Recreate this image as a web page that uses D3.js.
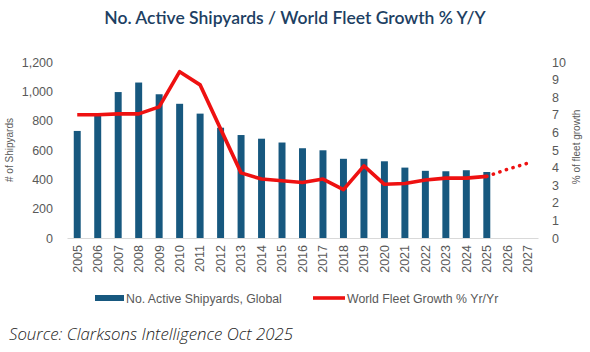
<!DOCTYPE html>
<html>
<head>
<meta charset="utf-8">
<script src="https://cdn.jsdelivr.net/npm/d3@7"></script>
<style>
  html, body { margin: 0; padding: 0; background: #fff; }
  svg { display: block; }
</style>
</head>
<body>
<svg id="chart" width="590" height="352"></svg>
<script>
// データ
const years = ['2005','2006','2007','2008','2009','2010','2011','2012','2013','2014','2015','2016',
  '2017','2018','2019','2020','2021','2022','2023','2024','2025','2026','2027'];
const shipyards = [730, 840, 995, 1060, 980, 915, 848, 752, 702, 677, 651, 612,
  598, 540, 540, 523, 480, 458, 455, 462, 450, null, null];
const fleetGrowth = [7.0, 7.0, 7.05, 7.05, 7.45, 9.45, 8.7, 6.2, 3.7, 3.35, 3.25, 3.15,
  3.35, 2.75, 4.1, 3.05, 3.1, 3.3, 3.4, 3.4, 3.5, null, null];
// 予測（点線）
const forecastYears = ['2025', '2026', '2027'];
const forecastGrowth = [3.5, 3.9, 4.25];
const leftTicks = [0, 200, 400, 600, 800, 1000, 1200];
const rightTicks = [0, 1, 2, 3, 4, 5, 6, 7, 8, 9, 10];

const M = { top: 62, left: 67, right: 52, bottom: 114 };
const W = 590, H = 352;
const iw = W - M.left - M.right; // 471
const ih = 176;

const BAR = '#17587f', RED = '#ee1111', TXT = '#595959';

const svg = d3.select('#chart');

svg.append('text')
  .attr('x', 295).attr('y', 24)
  .attr('text-anchor', 'middle')
  .attr('font-family', 'Lato, sans-serif')
  .attr('font-size', 17.5)
  .attr('font-weight', 600)
  .attr('fill', '#1d3f63')
  .text('No. Active Shipyards / World Fleet Growth % Y/Y');

const g = svg.append('g').attr('transform', `translate(${M.left},${M.top})`);

const x = d3.scaleBand().domain(years).range([0, iw]).paddingInner(0.66).paddingOuter(0.33);
const yL = d3.scaleLinear().domain([0, 1200]).range([ih, 0]);
const yR = d3.scaleLinear().domain([0, 10]).range([ih, 0]);

// 左軸
const axL = g.append('g')
  .call(d3.axisLeft(yL).tickValues(leftTicks).tickSize(0).tickPadding(14).tickFormat(d3.format(',')));
axL.select('.domain').remove();
axL.selectAll('text').attr('fill', TXT).attr('font-size', 12.5).attr('font-family', 'Liberation Sans, Arial, sans-serif');

// 右軸
const axR = g.append('g').attr('transform', `translate(${iw},0)`)
  .call(d3.axisRight(yR).tickValues(rightTicks).tickSize(0).tickPadding(14));
axR.select('.domain').remove();
axR.selectAll('text').attr('fill', TXT).attr('font-size', 12.5).attr('font-family', 'Liberation Sans, Arial, sans-serif');

// 軸タイトル
svg.append('text')
  .attr('transform', `translate(13,${M.top + ih / 2}) rotate(-90)`)
  .attr('text-anchor', 'middle')
  .attr('font-family', 'Liberation Sans, Arial, sans-serif')
  .attr('font-size', 10).attr('fill', TXT)
  .text('# of Shipyards');
svg.append('text')
  .attr('transform', `translate(580,${M.top + ih / 2 - 3}) rotate(-90)`)
  .attr('text-anchor', 'middle')
  .attr('font-family', 'Liberation Sans, Arial, sans-serif')
  .attr('font-size', 10).attr('fill', TXT)
  .text('% of fleet growth');

// 棒
g.selectAll('rect.bar')
  .data(years.map((yr, i) => ({ yr, v: shipyards[i] })).filter(d => d.v != null))
  .join('rect')
  .attr('class', 'bar')
  .attr('x', d => x(d.yr))
  .attr('width', x.bandwidth())
  .attr('y', d => yL(d.v))
  .attr('height', d => ih - yL(d.v))
  .attr('fill', BAR);

// X軸
const axX = g.append('g').attr('transform', `translate(0,${ih})`)
  .call(d3.axisBottom(x).tickSize(0).tickPadding(0));
axX.select('.domain').attr('stroke', '#d9d9d9').attr('stroke-width', 1.2);
axX.selectAll('text')
  .attr('fill', TXT).attr('font-size', 12.5).attr('font-family', 'Liberation Sans, Arial, sans-serif')
  .attr('text-anchor', 'end')
  .attr('dy', '0.35em')
  .attr('transform', 'translate(0,7) rotate(-90)');

// 線
const cx = d => x(d.yr) + x.bandwidth() / 2;
const line = d3.line().defined(d => d.v != null).x(cx).y(d => yR(d.v));
g.append('path')
  .datum(years.map((yr, i) => ({ yr, v: fleetGrowth[i] })))
  .attr('fill', 'none').attr('stroke', RED).attr('stroke-width', 3.6)
  .attr('stroke-linejoin', 'round')
  .attr('d', line);
g.append('path')
  .datum(forecastYears.map((yr, i) => ({ yr, v: forecastGrowth[i] })))
  .attr('fill', 'none').attr('stroke', RED).attr('stroke-width', 3.6)
  .attr('stroke-linecap', 'round')
  .attr('stroke-dasharray', '0.1,6.8')
  .attr('d', line);

// 凡例
const lg = svg.append('g').attr('font-family', 'Liberation Sans, Arial, sans-serif').attr('font-size', 12.3).attr('fill', TXT);
lg.append('rect').attr('x', 95).attr('y', 295).attr('width', 29).attr('height', 6).attr('fill', BAR);
lg.append('text').attr('x', 126).attr('y', 302.5).text('No. Active Shipyards, Global');
lg.append('line').attr('x1', 313).attr('x2', 345).attr('y1', 298).attr('y2', 298)
  .attr('stroke', RED).attr('stroke-width', 3.6);
lg.append('text').attr('x', 347).attr('y', 302.5).text('World Fleet Growth % Yr/Yr');

// 出典
svg.append('text')
  .attr('x', 9).attr('y', 340)
  .attr('font-family', 'Open Sans, sans-serif')
  .attr('font-style', 'italic')
  .attr('font-weight', 300)
  .attr('font-size', 16.8)
  .attr('fill', '#222')
  .text('Source: Clarksons Intelligence Oct 2025');
</script>
</body>
</html>
